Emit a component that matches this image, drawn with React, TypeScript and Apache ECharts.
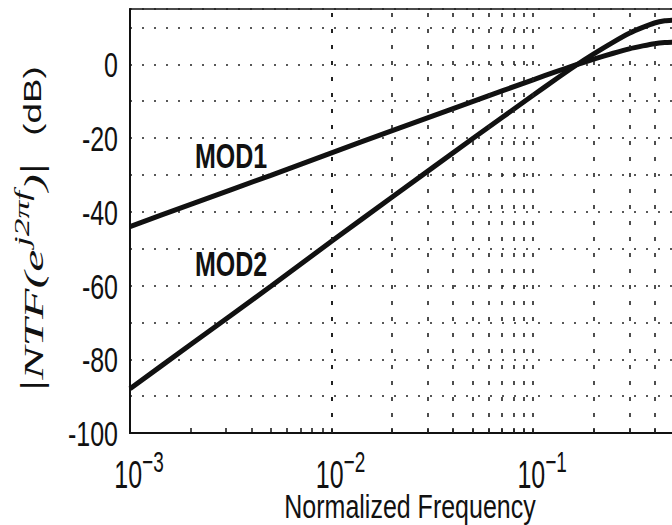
import React, { useEffect, useRef } from "react";
import * as echarts from "echarts";

const freqs = [0.001, 0.002, 0.005, 0.01, 0.02, 0.05, 0.1, 0.13, 0.16, 0.2, 0.25, 0.3, 0.35, 0.4, 0.45, 0.5];
const mod1 = [-44.0, -38.0, -30.1, -24.0, -18.0, -10.1, -4.2, -2.0, -0.3, 1.4, 3.0, 4.2, 5.0, 5.6, 5.9, 6.0];
const mod2 = [-88.0, -76.0, -60.2, -48.0, -36.0, -20.2, -8.4, -4.0, -0.6, 2.8, 6.0, 8.4, 10.0, 11.2, 11.8, 12.0];
const gridFreqs = [
  0.002, 0.003, 0.004, 0.005, 0.006, 0.007, 0.008, 0.009,
  0.01, 0.02, 0.03, 0.04, 0.05, 0.06, 0.07, 0.08, 0.09,
  0.1, 0.2, 0.3, 0.4,
];
const xTickValues = [0.001, 0.01, 0.1];
const xTickExponents = ["\u22123", "\u22122", "\u22121"];
const yTickValues = [-100, -80, -60, -40, -20, 0];
const seriesNames = ["MOD1", "MOD2"];
const xTitle = "Normalized Frequency";
const yUnit = "(dB)";

const SANS = "'Liberation Sans', Arial, Helvetica, sans-serif";
const SERIF = "'Liberation Serif', 'Times New Roman', serif";
const INK = "#111";

export default function App() {
  const ref = useRef<HTMLDivElement>(null);
  useEffect(() => {
    if (!ref.current) return;
    const chart = echarts.init(ref.current, null, { renderer: "svg" });
    const lineStyle = { color: INK, width: 5 };
    chart.setOption({
      animation: false,
      backgroundColor: "#fff",
      grid: {
        left: 130,
        top: 9,
        width: 544,
        height: 424,
        containLabel: false,
        outerBoundsMode: "none",
        show: true,
        borderColor: INK,
        borderWidth: 1.5,
      },
      xAxis: {
        type: "log",
        logBase: 10,
        min: 0.001,
        max: 0.5,
        axisLine: { onZero: false, lineStyle: { color: INK, width: 2 } },
        axisTick: { show: true, inside: true, length: 5, lineStyle: { color: INK, width: 1.5 }, customValues: [0.001, ...gridFreqs] },
        splitLine: { show: false },
        axisLabel: { show: false },
      },
      yAxis: {
        type: "value",
        min: -100,
        max: 15,
        interval: 10,
        axisLine: { show: true, onZero: false, lineStyle: { color: INK, width: 2 } },
        axisTick: { show: false },
        axisLabel: { show: false },
        splitLine: { show: true, lineStyle: { color: "#222", width: 1.6, type: [2, 10] } },
      },
      series: [
        {
          type: "line",
          data: [],
          z: 1,
          silent: true,
          markLine: {
            silent: true,
            symbol: ["none", "none"],
            label: { show: false },
            lineStyle: { color: "#222", width: 1.6, type: [4, 12] },
            data: gridFreqs.map((f) => ({ xAxis: f })),
          },
        },
        {
          name: seriesNames[0],
          type: "line",
          z: 3,
          showSymbol: false,
          smooth: 0.2,
          lineStyle,
          data: freqs.map((f, i) => [f, mod1[i]]),
        },
        {
          name: seriesNames[1],
          type: "line",
          z: 3,
          showSymbol: false,
          smooth: 0.2,
          lineStyle,
          data: freqs.map((f, i) => [f, mod2[i]]),
        },
      ],
    });

    const origin = chart.convertToPixel({ gridIndex: 0 }, [0.001, -100]) as number[];
    const left = origin[0];
    const bottom = origin[1];
    const graphics: any[] = [];

    yTickValues.forEach((v) => {
      const p = chart.convertToPixel({ gridIndex: 0 }, [0.001, v]) as number[];
      graphics.push({
        type: "text",
        x: left - 12,
        y: p[1] + 1,
        scaleY: 1.42,
        z: 10,
        style: {
          text: String(v),
          font: `25px ${SANS}`,
          fill: INK,
          align: "right",
          verticalAlign: "middle",
          textAlign: "right",
          textVerticalAlign: "middle",
        },
      });
    });

    xTickValues.forEach((v, i) => {
      const p = chart.convertToPixel({ gridIndex: 0 }, [v, -100]) as number[];
      graphics.push({
        type: "text",
        x: p[0] - 2,
        y: bottom + 37,
        scaleY: 1.55,
        z: 10,
        style: {
          text: `{b|10}{s|${xTickExponents[i]}}`,
          align: "center",
          verticalAlign: "middle",
          textAlign: "center",
          textVerticalAlign: "middle",
          fill: INK,
          rich: {
            b: { fontFamily: SANS, fontSize: 25, lineHeight: 30, verticalAlign: "bottom", padding: [0, 0, 0, 22], fill: INK },
            s: { fontFamily: SANS, fontSize: 19, lineHeight: 18, verticalAlign: "top", fill: INK },
          },
        },
      });
    });

    graphics.push({
      type: "text",
      x: 410,
      y: 506,
      scaleY: 1.35,
      z: 10,
      style: {
        text: xTitle,
        font: `25px ${SANS}`,
        fill: INK,
        align: "center",
        verticalAlign: "middle",
        textAlign: "center",
        textVerticalAlign: "middle",
      },
    });

    // y-axis title: |NTF(e^{j2πf})|
    graphics.push({
      type: "text",
      x: 30,
      y: 277,
      rotation: Math.PI / 2,
      scaleX: 1.78,
      z: 10,
      style: {
        text: "{bar||}{it|NTF(e}{sup|j2\u03c0f}{it|)}{bar||}",
        align: "center",
        verticalAlign: "middle",
        textAlign: "center",
        textVerticalAlign: "middle",
        fill: INK,
        rich: {
          bar: { fontFamily: SERIF, fontSize: 31, lineHeight: 35, verticalAlign: "bottom", fill: INK },
          it: { fontFamily: SERIF, fontStyle: "italic", fontSize: 28, lineHeight: 35, verticalAlign: "bottom", fill: INK },
          sup: { fontFamily: SERIF, fontStyle: "italic", fontSize: 20, lineHeight: 20, verticalAlign: "top", padding: [0, 0, 0, 2], fill: INK },
        },
      },
    });
    // y-axis unit
    graphics.push({
      type: "text",
      x: 33,
      y: 101,
      rotation: Math.PI / 2,
      scaleX: 1.6,
      z: 10,
      style: {
        text: yUnit,
        font: `23px ${SANS}`,
        fill: INK,
        align: "center",
        verticalAlign: "middle",
        textAlign: "center",
        textVerticalAlign: "middle",
      },
    });

    [155.5, 263.5].forEach((cy, i) => {
      graphics.push({
        type: "text",
        x: 195,
        y: cy,
        scaleY: 1.42,
        z: 10,
        style: {
          text: seriesNames[i],
          font: `bold 25px ${SANS}`,
          fill: INK,
          align: "left",
          verticalAlign: "middle",
          textAlign: "left",
          textVerticalAlign: "middle",
        },
      });
    });

    chart.setOption({ graphic: graphics });
    return () => chart.dispose();
  }, []);
  return <div ref={ref} style={{ position: "absolute", left: 0, top: 0, width: 672, height: 525 }} />;
}
